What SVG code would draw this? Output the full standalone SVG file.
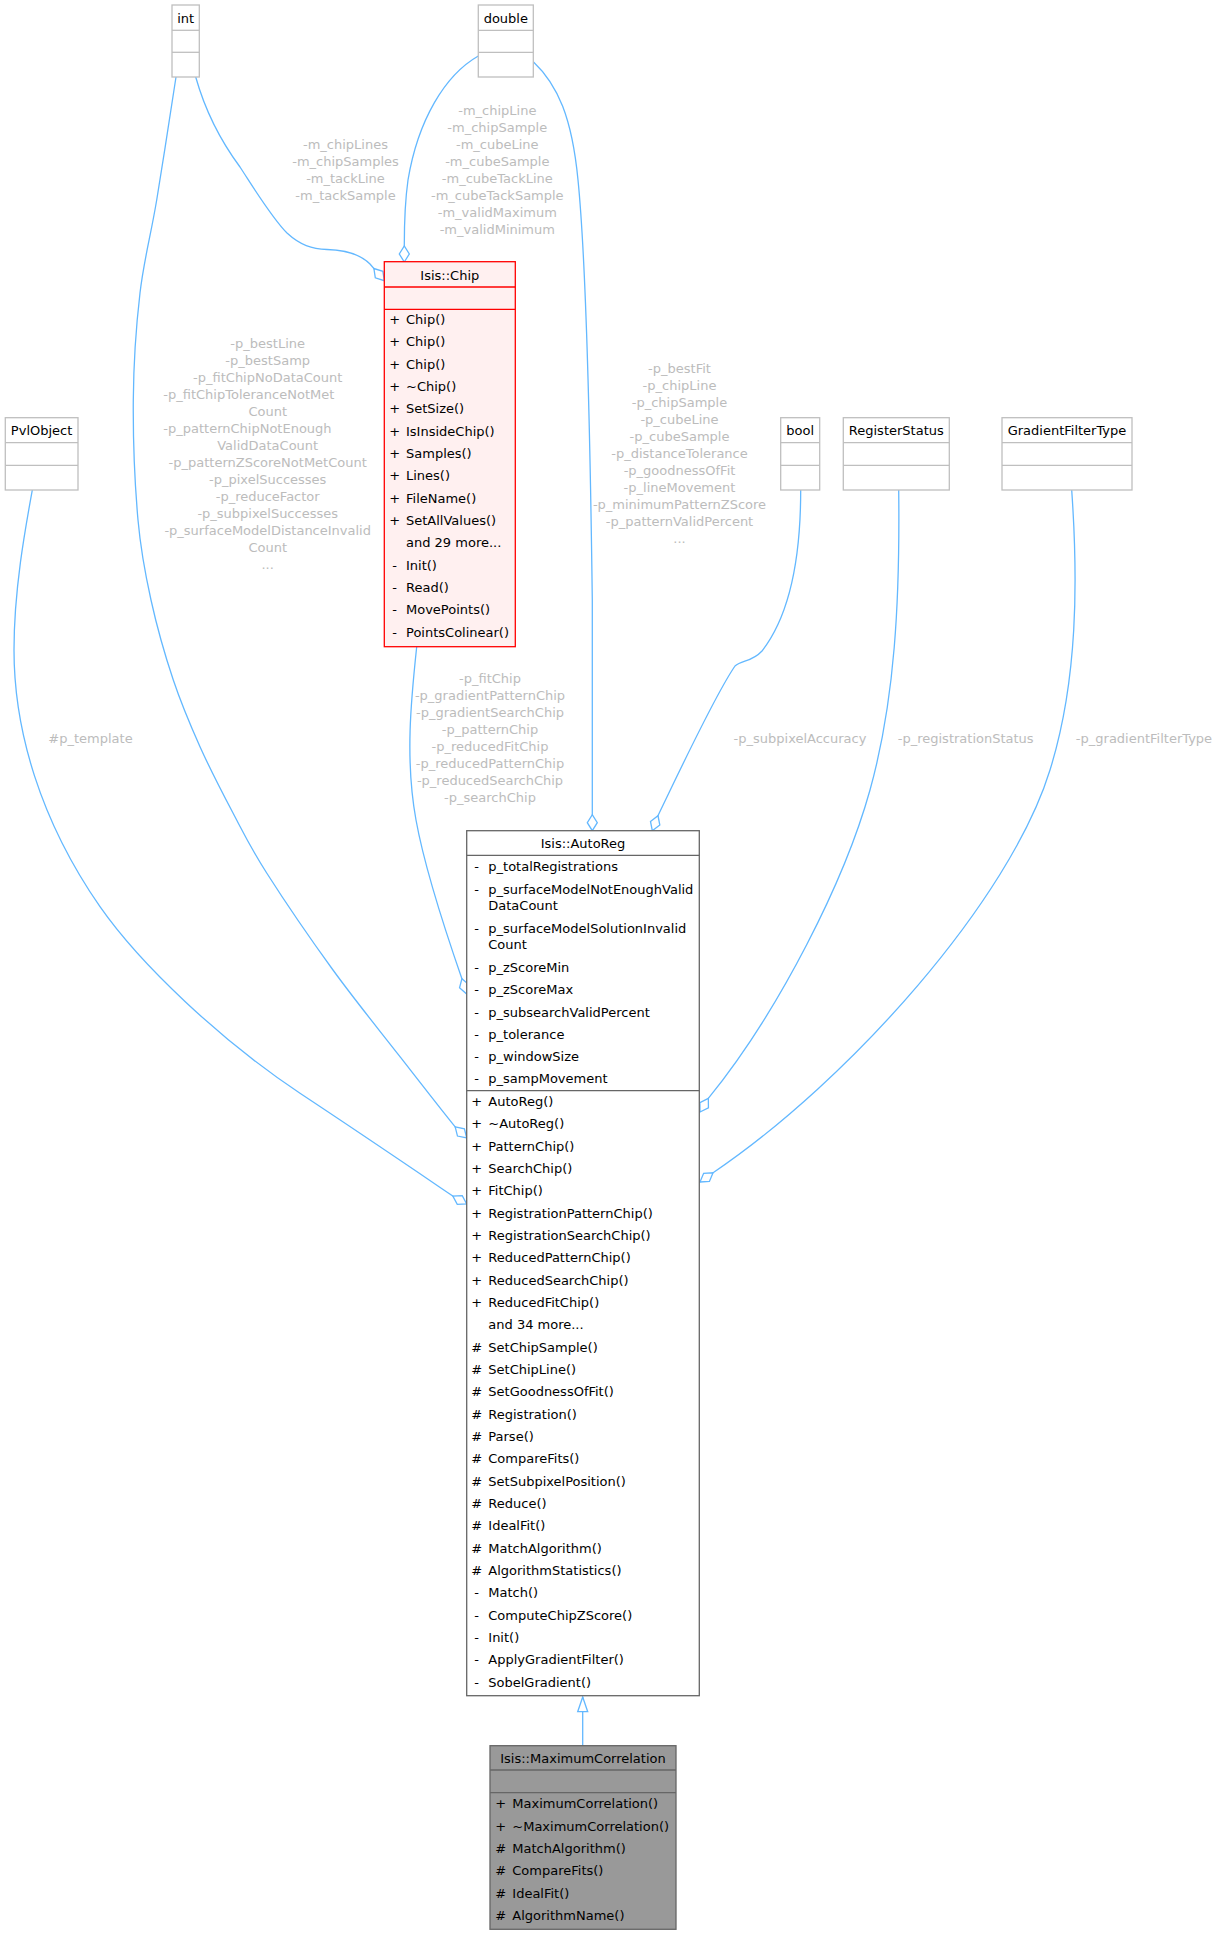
<svg xmlns="http://www.w3.org/2000/svg" width="1218" height="1935" viewBox="0 0 1218 1935">
<style>
text{font-family:"DejaVu Sans","Liberation Sans",sans-serif;font-size:13px;fill:#000}
.m{text-anchor:middle}
.lbl{fill:#bcbcbc}
.lblm{fill:#bcbcbc;text-anchor:middle}
.edge{fill:none;stroke:#63b8ff;stroke-width:1.3}
.dia{marker-end:url(#odiamond)}
.gbox{fill:#fff;stroke:#bfbfbf;stroke-width:1.3}
.gline{stroke:#bfbfbf;stroke-width:1.3}
.abox{fill:#fff;stroke:#666;stroke-width:1.3}
.aline{stroke:#666;stroke-width:1.3}
.cbox{fill:#fff0f0;stroke:#ff0000;stroke-width:1.3}
.cline{stroke:#ff0000;stroke-width:1.3}
.mbox{fill:#999;stroke:#666;stroke-width:1.3}
</style>
<defs>
<marker id="odiamond" markerUnits="userSpaceOnUse" markerWidth="20" markerHeight="12" viewBox="-18 -6 20 12" refX="0" refY="0" orient="auto" overflow="visible">
<path d="M0,0 L-8,-5 L-16,0 L-8,5 Z" fill="#fff" stroke="#63b8ff" stroke-width="1.3"/>
</marker>
<marker id="otri" markerUnits="userSpaceOnUse" markerWidth="18" markerHeight="12" viewBox="-17 -6 18 12" refX="0" refY="0" orient="auto" overflow="visible">
<path d="M0,0 L-14.7,-5 L-14.7,5 Z" fill="#fff" stroke="#63b8ff" stroke-width="1.3"/>
</marker>
</defs>
<rect width="1218" height="1935" fill="#fff"/>

<g id="edges">
<path class="edge dia" d="M195.7,77 C205,110 220,140 240,167 C255,190 272,218 287,233 C300,245 312,249 327,249.5 C345,250 360,254 370,264 L384.3,280.7"/>
<path class="edge dia" d="M478.3,56 C445,75 418,120 408,180 C404.5,205 404.3,225 404.3,245 L404.3,262"/>
<path class="edge dia" d="M533.3,61.7 C558,85 572,118 578,180 C586,260 590,420 592.3,600 L592.3,830.7"/>
<path class="edge dia" d="M176,77 C172.8,97.5 162.7,164 156.7,200 C150.7,236 143.9,259.7 140,293 C136.1,326.3 133.6,362.2 133.3,400 C133,437.8 135.05,486.7 138,520 C140.95,553.3 145.1,573.3 151,600 C156.9,626.7 165.1,655.6 173.3,680 C181.5,704.5 190.05,724.5 200,746.7 C209.95,768.9 221.9,791.95 233,813 C244.1,834.05 250,846.8 266.7,873 C283.4,899.2 310.8,939.4 333,970 C355.2,1000.6 379.7,1030.6 400,1056.7 C420.3,1082.8 443.9,1113.15 455,1126.7 L466.7,1138"/>
<path class="edge dia" d="M32.3,490 C25,530 14,590 14,650 C14,730 40,820 100,906.7 C140,964 220,1040 300,1093.3 C360,1133 410,1167 452.8,1196 L466.7,1204"/>
<path class="edge dia" d="M416.7,646.7 C411,700 405,760 416,820 C425,870 445,930 462,979 L466.7,994"/>
<path class="edge dia" d="M800.7,490 C800.7,560 790,615 762,651 C752,662 742,660 735,666 C715,695 680,770 658.3,815 L652.3,830.7"/>
<path class="edge dia" d="M898.7,490 C900,600 895,700 870,790 C845,880 780,1010 708.3,1098.4 L700,1112"/>
<path class="edge dia" d="M1071.7,490 C1078,580 1078,680 1050,770 C1010,900 850,1080 713.1,1172.7 L700,1182"/>
<path class="edge" marker-end="url(#otri)" d="M582.7,1745.7 L582.7,1697"/>
</g>

<g id="edge-labels">
<text class="lblm" x="345.5" y="148.5">-m_chipLines</text>
<text class="lblm" x="345.5" y="165.5">-m_chipSamples</text>
<text class="lblm" x="345.5" y="182.5">-m_tackLine</text>
<text class="lblm" x="345.5" y="199.5">-m_tackSample</text>

<text class="lblm" x="497.3" y="114.5">-m_chipLine</text>
<text class="lblm" x="497.3" y="131.5">-m_chipSample</text>
<text class="lblm" x="497.3" y="148.5">-m_cubeLine</text>
<text class="lblm" x="497.3" y="165.5">-m_cubeSample</text>
<text class="lblm" x="497.3" y="182.5">-m_cubeTackLine</text>
<text class="lblm" x="497.3" y="199.5">-m_cubeTackSample</text>
<text class="lblm" x="497.3" y="216.5">-m_validMaximum</text>
<text class="lblm" x="497.3" y="233.5">-m_validMinimum</text>

<text class="lblm" x="267.7" y="347.8">-p_bestLine</text>
<text class="lblm" x="267.7" y="364.8">-p_bestSamp</text>
<text class="lblm" x="267.7" y="381.8">-p_fitChipNoDataCount</text>
<text class="lbl" x="163.3" y="398.8">-p_fitChipToleranceNotMet</text>
<text class="lblm" x="267.7" y="415.8">Count</text>
<text class="lbl" x="163.3" y="432.8">-p_patternChipNotEnough</text>
<text class="lblm" x="267.7" y="449.8">ValidDataCount</text>
<text class="lblm" x="267.7" y="466.8">-p_patternZScoreNotMetCount</text>
<text class="lblm" x="267.7" y="483.8">-p_pixelSuccesses</text>
<text class="lblm" x="267.7" y="500.8">-p_reduceFactor</text>
<text class="lblm" x="267.7" y="517.8">-p_subpixelSuccesses</text>
<text class="lblm" x="267.7" y="534.8">-p_surfaceModelDistanceInvalid</text>
<text class="lblm" x="267.7" y="551.8">Count</text>
<text class="lblm" x="267.7" y="568.8">...</text>

<text class="lblm" x="679.5" y="372.8">-p_bestFit</text>
<text class="lblm" x="679.5" y="389.8">-p_chipLine</text>
<text class="lblm" x="679.5" y="406.8">-p_chipSample</text>
<text class="lblm" x="679.5" y="423.8">-p_cubeLine</text>
<text class="lblm" x="679.5" y="440.8">-p_cubeSample</text>
<text class="lblm" x="679.5" y="457.8">-p_distanceTolerance</text>
<text class="lblm" x="679.5" y="474.8">-p_goodnessOfFit</text>
<text class="lblm" x="679.5" y="491.8">-p_lineMovement</text>
<text class="lblm" x="679.5" y="508.8">-p_minimumPatternZScore</text>
<text class="lblm" x="679.5" y="525.8">-p_patternValidPercent</text>
<text class="lblm" x="679.5" y="542.8">...</text>

<text class="lblm" x="490" y="682.8">-p_fitChip</text>
<text class="lblm" x="490" y="699.8">-p_gradientPatternChip</text>
<text class="lblm" x="490" y="716.8">-p_gradientSearchChip</text>
<text class="lblm" x="490" y="733.8">-p_patternChip</text>
<text class="lblm" x="490" y="750.8">-p_reducedFitChip</text>
<text class="lblm" x="490" y="767.8">-p_reducedPatternChip</text>
<text class="lblm" x="490" y="784.8">-p_reducedSearchChip</text>
<text class="lblm" x="490" y="801.8">-p_searchChip</text>

<text class="lbl" x="48.3" y="742.8">#p_template</text>
<text class="lblm" x="800" y="742.8">-p_subpixelAccuracy</text>
<text class="lblm" x="965.7" y="742.8">-p_registrationStatus</text>
<text class="lblm" x="1144" y="742.8">-p_gradientFilterType</text>
</g>

<g id="node_int">
<rect class="gbox" x="172" y="5" width="27.3" height="72"/>
<line class="gline" x1="172" y1="30.3" x2="199.3" y2="30.3"/>
<line class="gline" x1="172" y1="52.3" x2="199.3" y2="52.3"/>
<text class="m" x="185.7" y="22.5">int</text>
</g>

<g id="node_double">
<rect class="gbox" x="478.3" y="5" width="55" height="72"/>
<line class="gline" x1="478.3" y1="30.3" x2="533.3" y2="30.3"/>
<line class="gline" x1="478.3" y1="52.3" x2="533.3" y2="52.3"/>
<text class="m" x="505.8" y="22.5">double</text>
</g>

<g id="node_chip">
<rect class="cbox" x="384.3" y="261.7" width="131" height="385"/>
<line class="cline" x1="384.3" y1="287" x2="515.3" y2="287"/>
<line class="cline" x1="384.3" y1="309.3" x2="515.3" y2="309.3"/>
<text class="m" x="449.8" y="279.5">Isis::Chip</text>
<text class="m" x="394.7" y="324">+</text><text x="406" y="324">Chip()</text>
<text class="m" x="394.7" y="346.3">+</text><text x="406" y="346.3">Chip()</text>
<text class="m" x="394.7" y="368.7">+</text><text x="406" y="368.7">Chip()</text>
<text class="m" x="394.7" y="391">+</text><text x="406" y="391">~Chip()</text>
<text class="m" x="394.7" y="413.3">+</text><text x="406" y="413.3">SetSize()</text>
<text class="m" x="394.7" y="435.7">+</text><text x="406" y="435.7">IsInsideChip()</text>
<text class="m" x="394.7" y="458">+</text><text x="406" y="458">Samples()</text>
<text class="m" x="394.7" y="480.3">+</text><text x="406" y="480.3">Lines()</text>
<text class="m" x="394.7" y="502.7">+</text><text x="406" y="502.7">FileName()</text>
<text class="m" x="394.7" y="525">+</text><text x="406" y="525">SetAllValues()</text>
<text x="406" y="547.3">and 29 more...</text>
<text class="m" x="394.7" y="569.7">-</text><text x="406" y="569.7">Init()</text>
<text class="m" x="394.7" y="592">-</text><text x="406" y="592">Read()</text>
<text class="m" x="394.7" y="614.3">-</text><text x="406" y="614.3">MovePoints()</text>
<text class="m" x="394.7" y="636.7">-</text><text x="406" y="636.7">PointsColinear()</text>
</g>

<g id="node_pvlobject">
<rect class="gbox" x="5.3" y="417.7" width="72.7" height="72.3"/>
<line class="gline" x1="5.3" y1="442.7" x2="78" y2="442.7"/>
<line class="gline" x1="5.3" y1="465.3" x2="78" y2="465.3"/>
<text class="m" x="41.6" y="435.2">PvlObject</text>
</g>

<g id="node_bool">
<rect class="gbox" x="780.7" y="417.7" width="39" height="72.3"/>
<line class="gline" x1="780.7" y1="442.7" x2="819.7" y2="442.7"/>
<line class="gline" x1="780.7" y1="465.3" x2="819.7" y2="465.3"/>
<text class="m" x="800.2" y="435.2">bool</text>
</g>

<g id="node_registerstatus">
<rect class="gbox" x="843.3" y="417.7" width="106" height="72.3"/>
<line class="gline" x1="843.3" y1="442.7" x2="949.3" y2="442.7"/>
<line class="gline" x1="843.3" y1="465.3" x2="949.3" y2="465.3"/>
<text class="m" x="896.3" y="435.2">RegisterStatus</text>
</g>

<g id="node_gradientfiltertype">
<rect class="gbox" x="1002" y="417.7" width="130" height="72.3"/>
<line class="gline" x1="1002" y1="442.7" x2="1132" y2="442.7"/>
<line class="gline" x1="1002" y1="465.3" x2="1132" y2="465.3"/>
<text class="m" x="1067" y="435.2">GradientFilterType</text>
</g>

<g id="node_autoreg">
<rect class="abox" x="466.7" y="830.7" width="232.6" height="865"/>
<line class="aline" x1="466.7" y1="855.3" x2="699.3" y2="855.3"/>
<line class="aline" x1="466.7" y1="1090.7" x2="699.3" y2="1090.7"/>
<text class="m" x="583" y="848.2">Isis::AutoReg</text>
<text class="m" x="476.7" y="871">-</text><text x="488.3" y="871">p_totalRegistrations</text>
<text class="m" x="476.7" y="893.6">-</text><text x="488.3" y="893.6">p_surfaceModelNotEnoughValid</text>
<text x="488.3" y="910">DataCount</text>
<text class="m" x="476.7" y="932.6">-</text><text x="488.3" y="932.6">p_surfaceModelSolutionInvalid</text>
<text x="488.3" y="949.3">Count</text>
<text class="m" x="476.7" y="971.6">-</text><text x="488.3" y="971.6">p_zScoreMin</text>
<text class="m" x="476.7" y="994.3">-</text><text x="488.3" y="994.3">p_zScoreMax</text>
<text class="m" x="476.7" y="1016.6">-</text><text x="488.3" y="1016.6">p_subsearchValidPercent</text>
<text class="m" x="476.7" y="1038.6">-</text><text x="488.3" y="1038.6">p_tolerance</text>
<text class="m" x="476.7" y="1061">-</text><text x="488.3" y="1061">p_windowSize</text>
<text class="m" x="476.7" y="1083.3">-</text><text x="488.3" y="1083.3">p_sampMovement</text>
<text class="m" x="476.7" y="1106">+</text><text x="488.3" y="1106">AutoReg()</text>
<text class="m" x="476.7" y="1128.3">+</text><text x="488.3" y="1128.3">~AutoReg()</text>
<text class="m" x="476.7" y="1150.7">+</text><text x="488.3" y="1150.7">PatternChip()</text>
<text class="m" x="476.7" y="1173">+</text><text x="488.3" y="1173">SearchChip()</text>
<text class="m" x="476.7" y="1195.3">+</text><text x="488.3" y="1195.3">FitChip()</text>
<text class="m" x="476.7" y="1217.7">+</text><text x="488.3" y="1217.7">RegistrationPatternChip()</text>
<text class="m" x="476.7" y="1240">+</text><text x="488.3" y="1240">RegistrationSearchChip()</text>
<text class="m" x="476.7" y="1262.3">+</text><text x="488.3" y="1262.3">ReducedPatternChip()</text>
<text class="m" x="476.7" y="1284.7">+</text><text x="488.3" y="1284.7">ReducedSearchChip()</text>
<text class="m" x="476.7" y="1307">+</text><text x="488.3" y="1307">ReducedFitChip()</text>
<text x="488.3" y="1329.3">and 34 more...</text>
<text class="m" x="476.7" y="1351.7">#</text><text x="488.3" y="1351.7">SetChipSample()</text>
<text class="m" x="476.7" y="1374">#</text><text x="488.3" y="1374">SetChipLine()</text>
<text class="m" x="476.7" y="1396.3">#</text><text x="488.3" y="1396.3">SetGoodnessOfFit()</text>
<text class="m" x="476.7" y="1418.7">#</text><text x="488.3" y="1418.7">Registration()</text>
<text class="m" x="476.7" y="1441">#</text><text x="488.3" y="1441">Parse()</text>
<text class="m" x="476.7" y="1463.3">#</text><text x="488.3" y="1463.3">CompareFits()</text>
<text class="m" x="476.7" y="1485.7">#</text><text x="488.3" y="1485.7">SetSubpixelPosition()</text>
<text class="m" x="476.7" y="1508">#</text><text x="488.3" y="1508">Reduce()</text>
<text class="m" x="476.7" y="1530.3">#</text><text x="488.3" y="1530.3">IdealFit()</text>
<text class="m" x="476.7" y="1552.7">#</text><text x="488.3" y="1552.7">MatchAlgorithm()</text>
<text class="m" x="476.7" y="1575">#</text><text x="488.3" y="1575">AlgorithmStatistics()</text>
<text class="m" x="476.7" y="1597.3">-</text><text x="488.3" y="1597.3">Match()</text>
<text class="m" x="476.7" y="1619.7">-</text><text x="488.3" y="1619.7">ComputeChipZScore()</text>
<text class="m" x="476.7" y="1642">-</text><text x="488.3" y="1642">Init()</text>
<text class="m" x="476.7" y="1664.3">-</text><text x="488.3" y="1664.3">ApplyGradientFilter()</text>
<text class="m" x="476.7" y="1686.7">-</text><text x="488.3" y="1686.7">SobelGradient()</text>
</g>

<g id="node_maximumcorrelation">
<rect class="mbox" x="490" y="1745.7" width="186" height="183.6"/>
<line class="aline" x1="490" y1="1770" x2="676" y2="1770"/>
<line class="aline" x1="490" y1="1792.7" x2="676" y2="1792.7"/>
<text class="m" x="583" y="1763.2">Isis::MaximumCorrelation</text>
<text class="m" x="500.7" y="1808.3">+</text><text x="512.3" y="1808.3">MaximumCorrelation()</text>
<text class="m" x="500.7" y="1830.7">+</text><text x="512.3" y="1830.7">~MaximumCorrelation()</text>
<text class="m" x="500.7" y="1853">#</text><text x="512.3" y="1853">MatchAlgorithm()</text>
<text class="m" x="500.7" y="1875.3">#</text><text x="512.3" y="1875.3">CompareFits()</text>
<text class="m" x="500.7" y="1897.7">#</text><text x="512.3" y="1897.7">IdealFit()</text>
<text class="m" x="500.7" y="1920">#</text><text x="512.3" y="1920">AlgorithmName()</text>
</g>
</svg>
